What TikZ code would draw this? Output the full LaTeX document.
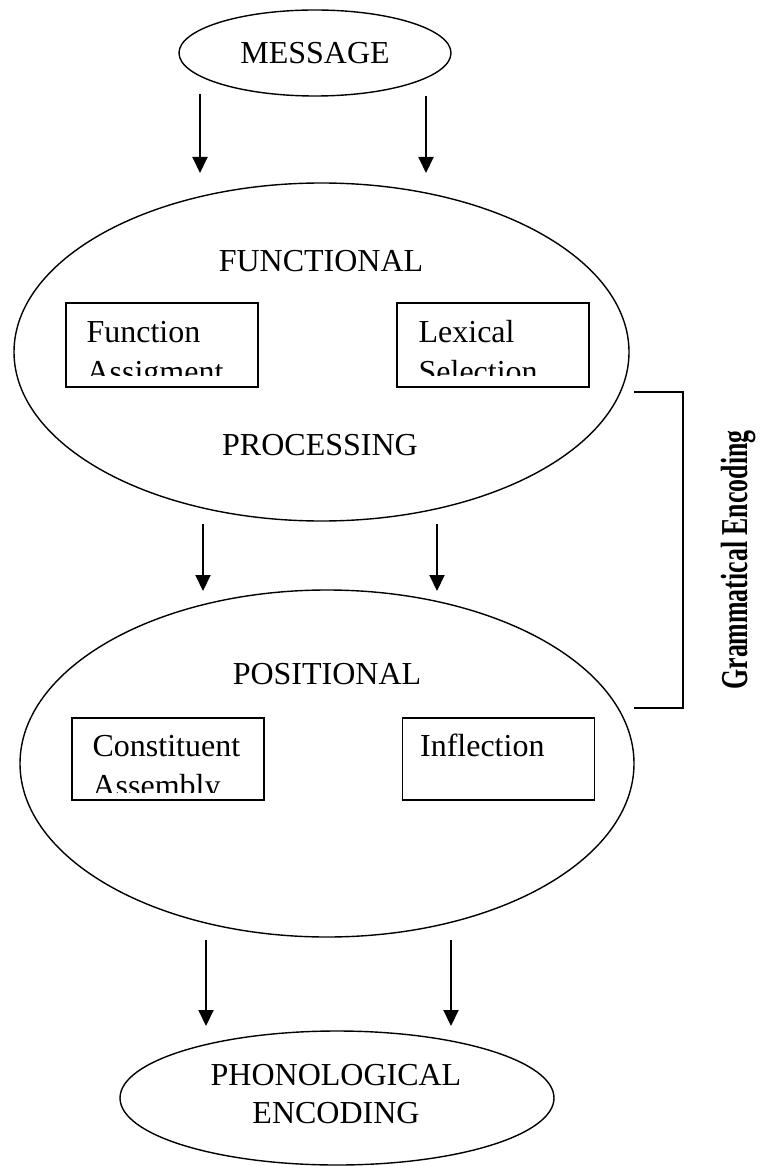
\documentclass[tikz,border=0pt]{standalone}
\usepackage{fontspec}
\setmainfont{Liberation Serif}
\usetikzlibrary{positioning,arrows.meta,shapes.geometric,calc}

\begin{document}
\begin{tikzpicture}[
  x=0.5pt, y=-0.5pt,
  oval/.style   = {ellipse, draw=black, line width=0.7pt, inner sep=0pt,
                   font=\fontsize{16}{19}\selectfont, align=center},
  lbl/.style    = {inner sep=0pt, anchor=base, font=\fontsize{16}{19}\selectfont},
  subbox/.style = {rectangle, draw=black, line width=0.8pt,
                   minimum width=96pt, minimum height=42pt, inner sep=0pt},
  boxtxt/.style = {inner sep=0pt, align=left, anchor=base west,
                   font=\fontsize{16}{20}\selectfont},
  arr/.style    = {-{Triangle[length=8pt,width=7.5pt]}, line width=1pt},
  brk/.style    = {line width=0.8pt},
]
\useasboundingbox (0,0) rectangle (760,1166);
% ovals
\node[oval, minimum width=136pt, minimum height=43pt] (msg)  at (315,53)      {MESSAGE};
\node[oval, minimum width=307.5pt, minimum height=169pt] (func) at (321.5,352) {};
\node[oval, minimum width=307pt, minimum height=173.5pt] (pos) at (327,763.5) {};
\node[oval, minimum width=217pt, minimum height=67pt] (phon) at (337,1098)   {};
\node[lbl, anchor=center, align=center] (phontxt) at (336,1094) {PHONOLOGICAL\\ENCODING};
% labels in the big ovals
\node[lbl] (functxt) at (321,271) {FUNCTIONAL};
\node[lbl] (proctxt) at (320,455) {PROCESSING};
\node[lbl] (postxt)  at (327,684) {POSITIONAL};
% sub boxes
\node[subbox] (fa)  at (162,345)   {};
\node[subbox] (ls)  at (493,345)   {};
\node[subbox, minimum height=41pt] (ca)  at (168,759)   {};
\node[subbox, minimum height=41pt] (inf) at (498.5,759) {};
\begin{scope}
  \clip (fa.north west) rectangle ([yshift=6pt]fa.south east);
  \node[boxtxt] (fatxt) at ([xshift=10.5pt,yshift=-40pt]fa.north west) {Function\\Assigment};
\end{scope}
\begin{scope}
  \clip (ls.north west) rectangle ([yshift=6pt]ls.south east);
  \node[boxtxt] (lstxt) at ([xshift=11pt,yshift=-40pt]ls.north west) {Lexical\\Selection};
\end{scope}
\begin{scope}
  \clip (ca.north west) rectangle ([yshift=4pt]ca.south east);
  \node[boxtxt] (catxt) at ([xshift=10.5pt,yshift=-39.5pt]ca.north west) {Constituent\\Assembly};
\end{scope}
\node[boxtxt] (inftxt) at ([xshift=9pt,yshift=-19.5pt]inf.north west) {Inflection};
% arrow ends
\coordinate (a1s) at (200,94);  \coordinate (a1e) at (200,173);
\coordinate (a2s) at (426,96);  \coordinate (a2e) at (426,173);
\coordinate (a3s) at (203,524); \coordinate (a3e) at (203,591);
\coordinate (a4s) at (437,524); \coordinate (a4e) at (437,591);
\coordinate (a5s) at (206,940); \coordinate (a5e) at (206,1026);
\coordinate (a6s) at (451,940); \coordinate (a6e) at (451,1026);
\draw[arr] (a1s) -- (a1e);
\draw[arr] (a2s) -- (a2e);
\draw[arr] (a3s) -- (a3e);
\draw[arr] (a4s) -- (a4e);
\draw[arr] (a5s) -- (a5e);
\draw[arr] (a6s) -- (a6e);
% bracket
\coordinate (b1) at (634,392); \coordinate (b2) at (683,392);
\coordinate (b3) at (683,708); \coordinate (b4) at (634,708);
\draw[brk] (b1) -- (b2) -- (b3) -- (b4);
\node[rotate=90, inner sep=0pt, font=\bfseries\fontsize{19}{20}\selectfont] (gram) at (738,560)
  {\scalebox{0.68}[1]{Grammatical Encoding}};
\end{tikzpicture}
\end{document}
